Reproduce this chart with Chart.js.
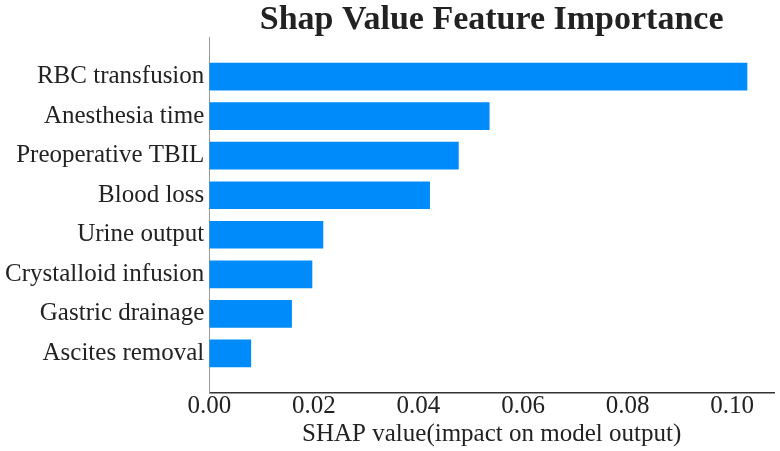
<!DOCTYPE html>
<html>
<head>
<meta charset="utf-8">
<script src="https://cdn.jsdelivr.net/npm/chart.js@4"></script>
<style>
  html, body { margin: 0; padding: 0; background: #fff; }
  #wrap { width: 780px; height: 451px; }
</style>
</head>
<body>
<div id="wrap"><canvas id="c"></canvas></div>
<script>
// feature names, top to bottom
var features = [
    "RBC transfusion",
    "Anesthesia time",
    "Preoperative TBIL",
    "Blood loss",
    "Urine output",
    "Crystalloid infusion",
    "Gastric drainage",
    "Ascites removal"
];
// mean |SHAP| per feature
var shapValues = [0.1029, 0.0536, 0.0477, 0.0422, 0.0218, 0.0197, 0.0158, 0.0080];
var xTicks = [0.00, 0.02, 0.04, 0.06, 0.08, 0.10];

var titleText = "Shap Value Feature Importance";
var serif = "'Liberation Serif', 'Times New Roman', serif";

// title centred over the plot area, like matplotlib does
var plotTitle = {
    id: "plotTitle",
    afterDraw: function (chart) {
        var ctx = chart.ctx;
        var area = chart.chartArea;
        ctx.save();
        ctx.font = "bold 34px " + serif;
        ctx.fillStyle = "#222";
        ctx.textAlign = "center";
        ctx.textBaseline = "middle";
        ctx.fillText(titleText, (area.left + area.right) / 2, 20);
        ctx.restore();
    }
};

var points = [];
for (var i = 0; i < features.length; i++) {
    points.push({ x: shapValues[i], y: i });
}

new Chart(document.getElementById("c"), {
    type: "bar",
    data: {
        datasets: [{
            data: points,
            backgroundColor: "#008bfb",
            borderWidth: 0,
            barPercentage: 0.7,
            categoryPercentage: 1
        }]
    },
    options: {
        indexAxis: "y",
        responsive: true,
        maintainAspectRatio: false,
        animation: false,
        layout: { padding: { top: 37, right: 6, left: 0, bottom: 0 } },
        plugins: {
            legend: { display: false },
            tooltip: { enabled: false }
        },
        scales: {
            x: {
                type: "linear",
                offset: false,
                min: 0,
                max: 0.108,
                grid: { display: false, drawTicks: false, tickLength: 0 },
                border: { display: true, color: "#333", width: 1.5 },
                afterBuildTicks: function (scale) {
                    scale.ticks = xTicks.map(function (v) { return { value: v }; });
                },
                ticks: {
                    color: "#222",
                    font: { family: serif, size: 25, lineHeight: 1.0 },
                    padding: 1,
                    callback: function (v) { return v.toFixed(2); }
                },
                title: {
                    display: true,
                    text: "SHAP value(impact on model output)",
                    color: "#222",
                    font: { family: serif, size: 25, lineHeight: 1.0 },
                    padding: { top: 2, bottom: 4 }
                }
            },
            y: {
                type: "linear",
                offset: false,
                reverse: true,
                min: -1,
                max: 8,
                grid: { display: false, drawTicks: false, tickLength: 0 },
                border: { display: true, color: "#999", width: 1 },
                afterBuildTicks: function (scale) {
                    scale.ticks = features.map(function (f, i) { return { value: i }; });
                },
                ticks: {
                    color: "#222",
                    autoSkip: false,
                    font: { family: serif, size: 25 },
                    padding: 5,
                    callback: function (v) { return features[v]; }
                }
            }
        }
    },
    plugins: [plotTitle]
});
</script>
</body>
</html>
